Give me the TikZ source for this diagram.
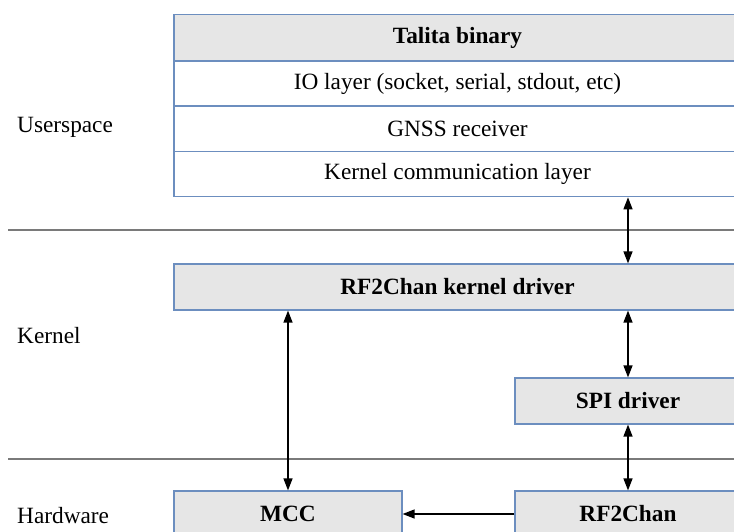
\documentclass[tikz,border=0pt]{standalone}
\usepackage{fontspec}
\setmainfont{Liberation Serif}
\usetikzlibrary{arrows.meta}
\definecolor{boxblue}{HTML}{6C8EBF}
\definecolor{boxgray}{HTML}{E6E6E6}
\definecolor{sepgray}{HTML}{7A7A7A}
\tikzset{
  layerbox/.style={draw=boxblue, line width=1.2pt, fill=white, minimum height=45.5pt, inner sep=0pt, font=\fontsize{23.3pt}{26pt}\selectfont},
  graybox/.style={layerbox, fill=boxgray, font=\fontsize{23.3pt}{26pt}\selectfont\bfseries},
  sideLabel/.style={anchor=west, inner sep=0pt, font=\fontsize{23.3pt}{26pt}\selectfont},
  sepline/.style={draw=sepgray, line width=2pt},
  biarrow/.style={draw=black, line width=1.3pt, {Triangle[length=12pt,width=9pt]}-{Triangle[length=12pt,width=9pt]}},
  onearrow/.style={draw=black, line width=1.3pt, -{Triangle[length=12pt,width=9pt]}}
}
\begin{document}
\begin{tikzpicture}[x=1pt,y=-1pt]
\useasboundingbox (0,0) rectangle (734,532);
\fill[white] (0,0) rectangle (734,532);
% userspace stack
\node[graybox, minimum width=567pt, minimum height=46.5pt] (talita) at (457.5,38) {Talita binary};
\node[layerbox, minimum width=567pt] (io) at (457.5,83.75) {IO layer (socket, serial, stdout, etc)};
\node[layerbox, minimum width=567pt] (gnss) at (457.5,128.75) {GNSS receiver};
\node[layerbox, minimum width=567pt] (kcl) at (457.5,174) {Kernel communication layer};
% kernel
\node[graybox, minimum width=567pt, minimum height=46pt] (kdrv) at (457.5,287) {RF2Chan kernel driver};
\node[graybox, minimum width=226pt, minimum height=46pt] (spi) at (628,401) {SPI driver};
% hardware
\node[graybox, minimum width=228pt, minimum height=46pt] (mcc) at (288,514) {MCC};
\node[graybox, minimum width=226pt, minimum height=46pt] (rf) at (628,514) {RF2Chan};
% separators
\coordinate (s1a) at (8,230);
\coordinate (s1b) at (740,230);
\coordinate (s2a) at (8,458.5);
\coordinate (s2b) at (740,458.5);
\draw[sepline] (s1a) -- (s1b);
\draw[sepline] (s2a) -- (s2b);
% side labels
\node[sideLabel] (lu) at (17,127) {Userspace};
\node[sideLabel] (lk) at (17,336) {Kernel};
\node[sideLabel] (lh) at (17,516) {Hardware};
% arrows
\draw[biarrow] (kcl.south -| spi.center) -- (kdrv.north -| spi.center);
\draw[biarrow] (kdrv.south -| spi.center) -- (spi.north);
\draw[biarrow] (spi.south) -- (rf.north);
\draw[biarrow] (kdrv.south -| mcc.center) -- (mcc.north);
\draw[onearrow] (rf.west) -- (mcc.east);
\end{tikzpicture}
\end{document}
